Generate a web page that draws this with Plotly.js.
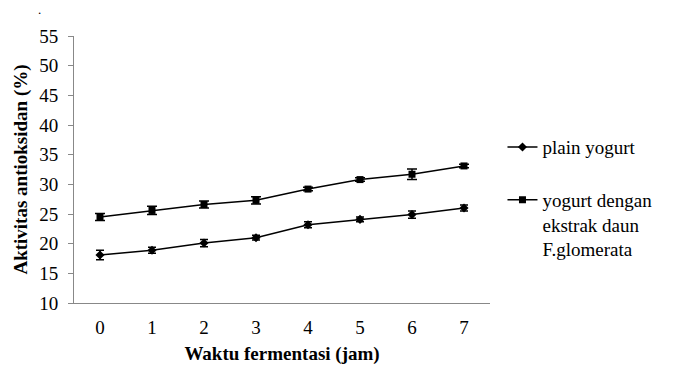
<!DOCTYPE html>
<html><head><meta charset="utf-8">
<script src="https://cdn.plot.ly/plotly-3.0.1.min.js"></script>
<style>html,body{margin:0;padding:0;background:#fff;}#chart{width:673px;height:365px;}</style>
</head><body><div id="chart"></div>
<script>
var hours = ['0','1','2','3','4','5','6','7'];
var plainYogurt = [18.1, 18.9, 20.1, 21.0, 23.2, 24.1, 24.9, 26.0];
var plainErr = [0.8, 0.5, 0.6, 0.4, 0.5, 0.4, 0.6, 0.5];
var extractYogurt = [24.5, 25.6, 26.6, 27.3, 29.2, 30.8, 31.7, 33.1];
var extractErr = [0.6, 0.7, 0.6, 0.6, 0.3, 0.3, 0.9, 0.3];
var yTicks = [10, 15, 20, 25, 30, 35, 40, 45, 50, 55];

var font = 'Times New Roman, Liberation Serif, serif';
var traces = [
  {x: hours, y: plainYogurt, name: 'plain yogurt', type: 'scatter', mode: 'lines+markers',
   legendgroup: 'a',
   line: {color: '#000', width: 1.5}, marker: {symbol: 'diamond', size: 7, color: '#000'},
   error_y: {type: 'data', array: plainErr, visible: true, color: '#000', thickness: 1.5, width: 4}},
  {x: hours, y: extractYogurt, name: 'yogurt dengan<br>ekstrak daun<br>F.glomerata', type: 'scatter', mode: 'lines+markers',
   legendgroup: 'b',
   line: {color: '#000', width: 1.5}, marker: {symbol: 'square', size: 7, color: '#000'},
   error_y: {type: 'data', array: extractErr, visible: true, color: '#000', thickness: 1.5, width: 5}}
];
var layout = {
  width: 673, height: 365,
  margin: {l: 74, r: 183, t: 36, b: 62},
  paper_bgcolor: '#fff', plot_bgcolor: '#fff',
  font: {family: font, size: 19, color: '#000'},
  showlegend: true,
  legend: {x: 1.03, y: 0.655, xanchor: 'left', yanchor: 'top', traceorder: 'grouped', tracegroupgap: 25,
           font: {family: font, size: 19, color: '#000'}, itemwidth: 30, valign: 'top'},
  xaxis: {type: 'category', range: [-0.5, 7.5], showgrid: false, zeroline: false,
          showline: true, linecolor: '#888', linewidth: 1, ticks: '', ticklen: 0,
          tickfont: {family: font, size: 19}, ticklabelstandoff: 7,
          title: {text: '<b>Waktu fermentasi (jam)</b>', font: {family: font, size: 19}, standoff: 9}},
  yaxis: {range: [10, 55], tickvals: yTicks, showgrid: false, zeroline: false,
          showline: true, linecolor: '#888', linewidth: 1, ticks: 'outside', ticklen: 5, tickcolor: '#888',
          tickfont: {family: font, size: 19}, ticklabelstandoff: 6,
          title: {text: '<b>Aktivitas antioksidan (%)</b>', font: {family: font, size: 19}, standoff: 6}},
  annotations: [{xref: 'paper', yref: 'paper', x: -0.082, y: 1.135, text: '.', showarrow: false,
                 font: {family: font, size: 13}, xanchor: 'center', yanchor: 'top'}]
};
Plotly.newPlot('chart', traces, layout, {displayModeBar: false, staticPlot: true});
</script></body></html>
